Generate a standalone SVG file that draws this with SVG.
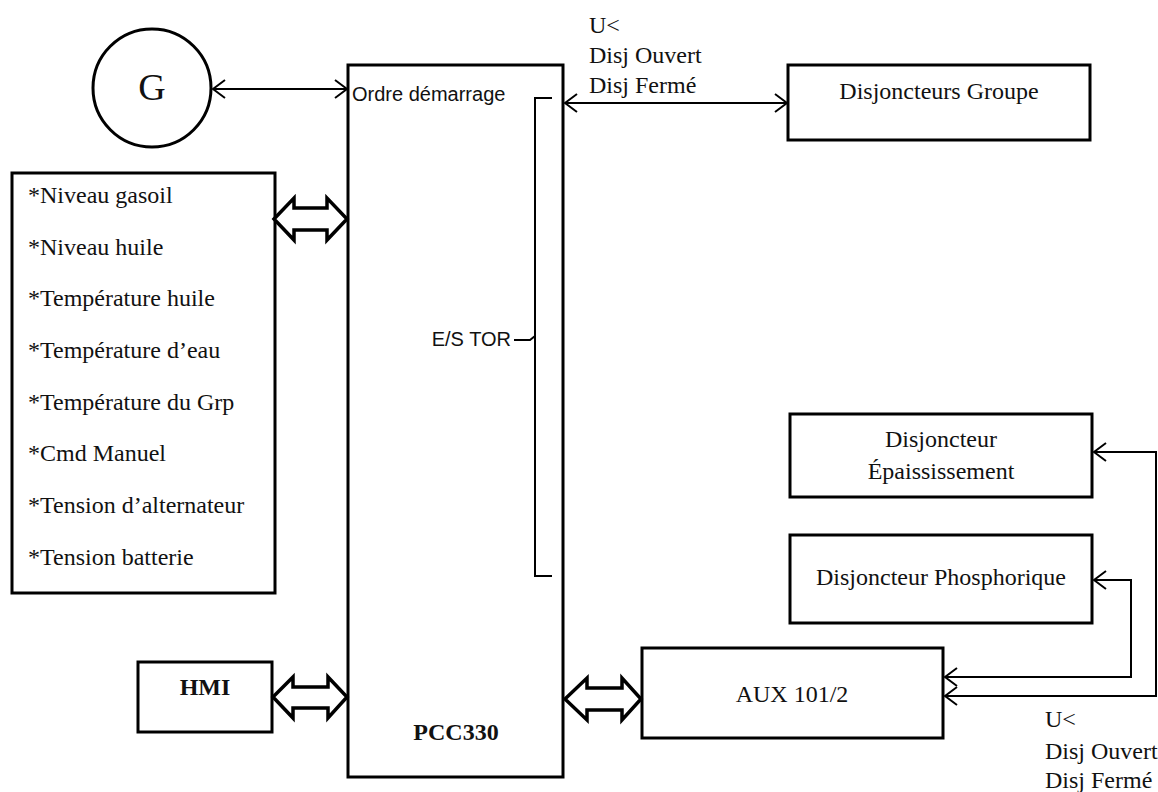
<svg xmlns="http://www.w3.org/2000/svg" width="1158" height="792" viewBox="0 0 1158 792">
<defs>
<style>
.box{fill:#fff;stroke:#000;stroke-width:3}
.ln{fill:none;stroke:#000;stroke-width:2}
.fat{fill:#fff;stroke:#000;stroke-width:3.5;stroke-linejoin:miter}
.serif{font-family:"Liberation Serif","Times New Roman",serif;font-size:24px;fill:#111}
.sans{font-family:"Liberation Sans",Arial,sans-serif;font-size:20px;fill:#111}
.bold{font-weight:bold}
</style>
<marker id="ah" viewBox="0 0 14 20" refX="13" refY="10" markerWidth="14" markerHeight="20" markerUnits="userSpaceOnUse" orient="auto-start-reverse">
<path d="M1,1 L13,10 L1,19" fill="none" stroke="#000" stroke-width="2"/>
</marker>
</defs>
<rect width="1158" height="792" fill="#fff"/>

<g id="G">
<circle cx="152" cy="88" r="59" fill="#fff" stroke="#000" stroke-width="3"/>
<text x="152" y="100" text-anchor="middle" font-family="Liberation Serif, serif" font-size="38" fill="#111">G</text>
</g>

<g id="PCC330">
<rect class="box" x="348" y="65" width="215" height="712"/>
<text class="sans" x="352" y="101" font-size="21">Ordre démarrage</text>
<text class="sans" x="511" y="346" text-anchor="end">E/S TOR</text>
<path class="ln" d="M552,98 L535,98 L535,576 L552,576 M514,340 L530,340 L535,336"/>
<text class="serif bold" x="456" y="740" text-anchor="middle">PCC330</text>
</g>

<g id="entrees">
<rect class="box" x="12" y="173" width="263" height="420"/>
<text class="serif" x="28" y="203">*Niveau gasoil</text>
<text class="serif" x="28" y="255">*Niveau huile</text>
<text class="serif" x="28" y="306">*Température huile</text>
<text class="serif" x="28" y="358">*Température d’eau</text>
<text class="serif" x="28" y="410">*Température du Grp</text>
<text class="serif" x="28" y="461">*Cmd Manuel</text>
<text class="serif" x="28" y="513">*Tension d’alternateur</text>
<text class="serif" x="28" y="565">*Tension batterie</text>
</g>

<g id="HMI">
<rect class="box" x="138" y="662" width="134" height="70"/>
<text class="serif bold" x="205" y="695" text-anchor="middle">HMI</text>
</g>

<g id="disj-groupe">
<rect class="box" x="788" y="65" width="302" height="75"/>
<text class="serif" x="939" y="99" text-anchor="middle">Disjoncteurs Groupe</text>
</g>

<g id="disj-epaississement">
<rect class="box" x="790" y="414" width="302" height="83"/>
<text class="serif" x="941" y="447" text-anchor="middle">Disjoncteur</text>
<text class="serif" x="941" y="479" text-anchor="middle">Épaississement</text>
</g>

<g id="disj-phosphorique">
<rect class="box" x="790" y="535" width="302" height="88"/>
<text class="serif" x="941" y="585" text-anchor="middle">Disjoncteur Phosphorique</text>
</g>

<g id="AUX">
<rect class="box" x="642" y="648" width="301" height="90"/>
<text class="serif" x="792" y="702" text-anchor="middle">AUX 101/2</text>
</g>

<g id="connectors">
<line class="ln" x1="213" y1="89" x2="347" y2="89" marker-start="url(#ah)" marker-end="url(#ah)"/>
<line class="ln" x1="565" y1="103" x2="787" y2="103" marker-start="url(#ah)" marker-end="url(#ah)"/>
<path class="fat" d="M274,219 L294,198 L294,208 L327,208 L327,198 L347,219 L327,240 L327,230 L294,230 L294,240 Z"/>
<path class="fat" d="M273,697 L293,677 L293,687 L328,687 L328,677 L347,697 L328,718 L328,708 L293,708 L293,718 Z"/>
<path class="fat" d="M565,699 L587,678 L587,688 L622,688 L622,678 L641,699 L622,720 L622,710 L587,710 L587,720 Z"/>
<path class="ln" d="M945,677 L1131,677 L1131,580 L1094,580" marker-start="url(#ah)" marker-end="url(#ah)"/>
<path class="ln" d="M945,696 L1156,696 L1156,452 L1094,452" marker-start="url(#ah)" marker-end="url(#ah)"/>
<text class="serif" x="589" y="33">U&lt;</text>
<text class="serif" x="589" y="63">Disj Ouvert</text>
<text class="serif" x="589" y="93">Disj Fermé</text>
<text class="serif" x="1045" y="727">U&lt;</text>
<text class="serif" x="1045" y="759">Disj Ouvert</text>
<text class="serif" x="1045" y="788">Disj Fermé</text>
</g>
</svg>
